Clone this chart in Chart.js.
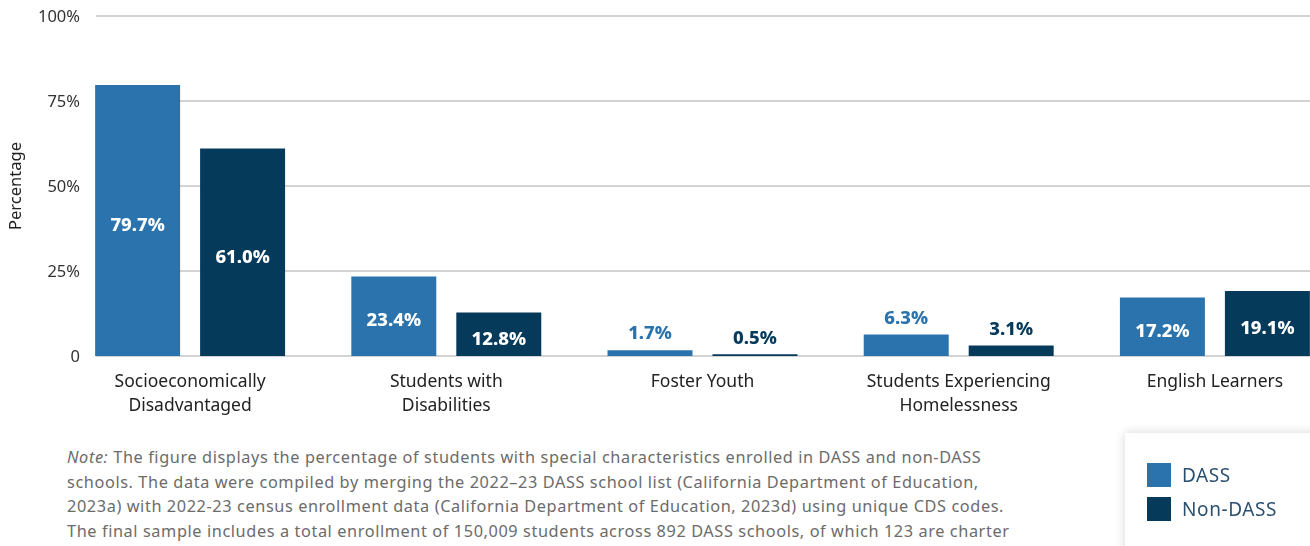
<!DOCTYPE html>
<html>
<head>
<meta charset="utf-8">
<script src="https://cdn.jsdelivr.net/npm/chart.js@4.4.1/dist/chart.umd.min.js"></script>
<style>
  html, body { margin: 0; padding: 0; background: #fff; }
  body { width: 1310px; height: 546px; overflow: hidden; position: relative; font-family: "Noto Sans", sans-serif; }
  #wrap { position: absolute; left: 0; top: 0; width: 1345px; height: 425px; }
  #note { position: absolute; left: 67px; top: 445px; width: 1000px; font-size: 16.3px; line-height: 24.5px;
          letter-spacing: 0.6px; color: #6b6b6b; }
  #legend { position: absolute; left: 1125px; top: 433px; width: 220px; height: 140px; background: #fff;
            box-shadow: 0 0 10px rgba(0,0,0,0.16); }
  .item { position: absolute; left: 22px; display: flex; align-items: center; font-size: 19px; letter-spacing: 0.6px; color: #2a5171; }
  .item span.sw { width: 24px; height: 24px; margin-right: 11px; display: inline-block; }
</style>
</head>
<body>
<div id="wrap"><canvas id="chart_characteristics" width="1345" height="425"></canvas></div>
<div id="note"><i>Note:</i> The figure displays the percentage of students with special characteristics enrolled in DASS and non-DASS<br>schools. The data were compiled by merging the 2022–23 DASS school list (California Department of Education,<br>2023a) with 2022-23 census enrollment data (California Department of Education, 2023d) using unique CDS codes.<br>The final sample includes a total enrollment of 150,009 students across 892 DASS schools, of which 123 are charter<br>schools.</div>
<div id="legend"></div>
<script>
var categories = [
    ['Socioeconomically', 'Disadvantaged'],
    ['Students with', 'Disabilities'],
    'Foster Youth',
    ['Students Experiencing', 'Homelessness'],
    'English Learners'
];
var dassValues = [79.7, 23.4, 1.7, 6.3, 17.2];
var nonDassValues = [61.0, 12.8, 0.5, 3.1, 19.1];
var yTicks = [0, 25, 50, 75, 100];
var yTickLabels = ['0', '25%', '50%', '75%', '100%'];

var DASS_COLOR = '#2a73ad';
var NON_DASS_COLOR = '#063a5b';

// horizontal grid and y tick labels, placed with the y scale
var gridLines = {
    id: 'gridLines',
    beforeDatasetsDraw: function(chart) {
        var ctx = chart.ctx, y = chart.scales.y, area = chart.chartArea;
        ctx.save();
        ctx.strokeStyle = '#d3d3d3';
        ctx.lineWidth = 2;
        ctx.fillStyle = '#333';
        ctx.font = '16.5px "Noto Sans"';
        ctx.textAlign = 'right';
        ctx.textBaseline = 'middle';
        yTicks.forEach(function(v, i) {
            var py = Math.round(y.getPixelForValue(v));
            ctx.beginPath();
            ctx.moveTo(96, py);
            ctx.lineTo(area.right, py);
            ctx.stroke();
            ctx.fillText(yTickLabels[i], 80, py + 1);
        });
        ctx.restore();
    }
};

// value labels: white inside tall bars, coloured above short ones
var barLabels = {
    id: 'barLabels',
    afterDatasetsDraw: function(chart) {
        var ctx = chart.ctx;
        ctx.save();
        ctx.font = '800 18.5px "Noto Sans"';
        ctx.textAlign = 'center';
        ctx.textBaseline = 'middle';
        chart.data.datasets.forEach(function(ds, di) {
            chart.getDatasetMeta(di).data.forEach(function(bar, i) {
                var v = ds.data[i];
                var text = v.toFixed(1) + '%';
                if (v >= 10) {
                    ctx.fillStyle = '#ffffff';
                    ctx.fillText(text, bar.x, (bar.y + bar.base) / 2 + 5);
                } else {
                    ctx.fillStyle = ds.backgroundColor;
                    ctx.fillText(text, bar.x, bar.y - 16);
                }
            });
        });
        ctx.restore();
    }
};

var chart_characteristics = new Chart(document.getElementById('chart_characteristics'), {
    type: 'bar',
    data: {
        labels: categories,
        datasets: [
            { label: 'DASS', data: dassValues, backgroundColor: DASS_COLOR },
            { label: 'Non-DASS', data: nonDassValues, backgroundColor: NON_DASS_COLOR }
        ]
    },
    options: {
        animation: false,
        responsive: false,
        categoryPercentage: 0.8195,
        barPercentage: 0.8095,
        layout: { padding: { top: 16, right: 2, bottom: 9, left: 0 } },
        plugins: {
            legend: { display: false },
            tooltip: { enabled: false }
        },
        scales: {
            x: {
                grid: { display: false },
                border: { display: false },
                ticks: {
                    color: '#222',
                    padding: 6,
                    font: { family: 'Noto Sans', size: 17.5, lineHeight: 1.38 },
                    maxRotation: 0,
                    autoSkip: false
                },
                afterFit: function(scale) { scale.height = 60; }
            },
            y: {
                min: 0,
                max: 100,
                grid: { display: false, drawTicks: false },
                border: { display: false },
                ticks: { display: false },
                title: {
                    display: true,
                    text: 'Percentage',
                    color: '#222',
                    padding: { top: 6 },
                    font: { family: 'Noto Sans', size: 16.5 }
                },
                afterFit: function(scale) { scale.width = 62; }
            }
        }
    },
    plugins: [gridLines, barLabels]
});

// legend from the chart's datasets
var legendEl = document.getElementById('legend');
chart_characteristics.data.datasets.forEach(function(ds, i) {
    var item = document.createElement('div');
    item.className = 'item';
    item.style.top = (29 + i * 34) + 'px';
    var sw = document.createElement('span');
    sw.className = 'sw';
    sw.style.background = ds.backgroundColor;
    item.appendChild(sw);
    item.appendChild(document.createTextNode(ds.label));
    legendEl.appendChild(item);
});
</script>
</body>
</html>
